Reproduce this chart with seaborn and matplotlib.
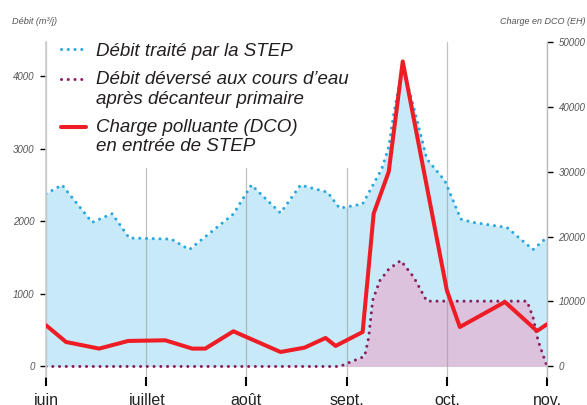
import numpy as np
import seaborn as sns
import matplotlib.pyplot as plt
from matplotlib.lines import Line2D
from matplotlib.legend_handler import HandlerLine2D

# x positions are in months: 0 = juin ... 5 = nov. (evenly spaced on the chart)
months = ['juin', 'juillet', 'août', 'sept.', 'oct.', 'nov.']

# Débit traité par la STEP (m3/j)
traite_x = [0.00, 0.16, 0.46, 0.66, 0.83, 1.25, 1.43, 1.87, 2.05, 2.34, 2.54, 2.81, 2.93,
            3.16, 3.35, 3.42, 3.47, 3.56, 3.67, 3.80, 3.98, 4.14, 4.26, 4.60, 4.86, 5.00]
traite_y = [2380, 2500, 1985, 2105, 1770, 1755, 1610, 2100, 2500, 2115, 2500, 2400, 2180,
            2240, 2720, 3020, 3480, 4140, 3570, 2860, 2560, 2030, 1985, 1915, 1610, 1780]

# Débit déversé aux cours d'eau (m3/j)
deverse_x = [0.00, 2.93, 3.00, 3.18, 3.22, 3.26, 3.33, 3.42, 3.54, 3.67, 3.80, 4.80, 4.86, 4.91, 5.00]
deverse_y = [0, 0, 40, 140, 400, 910, 1180, 1340, 1460, 1230, 900, 900, 680, 360, 0]

# Charge polluante DCO (EH)
charge_x = [0.00, 0.20, 0.53, 0.82, 1.19, 1.46, 1.59, 1.87, 2.34, 2.58, 2.79, 2.89,
            3.16, 3.27, 3.42, 3.56, 4.00, 4.13, 4.58, 4.90, 5.00]
charge_y = [6330, 3750, 2730, 3910, 4010, 2730, 2730, 5400, 2210, 2880, 4370, 3140,
            5290, 23560, 29990, 47000, 11730, 6060, 9920, 5450, 6480]

left_ticks = [0, 1000, 2000, 3000, 4000]
right_ticks = [0, 10000, 20000, 30000, 40000, 50000]

blue = '#29a8e0'
blue_fill = '#c7e9f8'
purple = '#8c1f60'
purple_fill = '#dcc2dc'
red = '#ee1d25'


class FirstLineHandler(HandlerLine2D):
    # put the legend line level with the first line of a two-line label
    def __init__(self, shift=0, **kw):
        super().__init__(**kw)
        self.shift = shift

    def create_artists(self, legend, orig_handle, xdescent, ydescent, width, height, fontsize, trans):
        artists = super().create_artists(legend, orig_handle, xdescent, ydescent,
                                         width, height, fontsize, trans)
        for a in artists:
            a.set_ydata(np.asarray(a.get_ydata()) + self.shift)
        return artists


sns.set_style('ticks')
plt.rcParams['font.family'] = ['Liberation Sans', 'DejaVu Sans']

fig = plt.figure(figsize=(5.87, 4.05), dpi=100)
ax = fig.add_axes([0.0784, 0.0691, 0.8535, 0.8272])
ax2 = ax.twinx()

dots = (0, (0.01, 2.2))

ax.fill_between(traite_x, traite_y, color=blue_fill, lw=0, zorder=1)
ax.fill_between(deverse_x, deverse_y, color=purple_fill, lw=0, zorder=1)
sns.lineplot(x=traite_x, y=traite_y, ax=ax, color=blue, lw=2.2, linestyle=dots,
             dash_capstyle='round', zorder=2)
sns.lineplot(x=deverse_x, y=deverse_y, ax=ax, color=purple, lw=2.2, linestyle=dots,
             dash_capstyle='round', zorder=2)
sns.lineplot(x=charge_x, y=charge_y, ax=ax2, color=red, lw=2.9, zorder=3)

ax.set_xlim(0, 5)
ax.set_ylim(-145, 4470)
ax2.set_ylim(-1650, 50000)

ax.set_xticks(range(len(months)), months)
ax.set_yticks(left_ticks, [str(v) for v in left_ticks])
ax2.set_yticks(right_ticks, [str(v) for v in right_ticks])
ax.set_xlabel('')
ax.set_ylabel('')
ax2.set_ylabel('')

ax.set_axisbelow('line')
ax.grid(axis='x', color='#999999', alpha=0.6, lw=0.9)

for s in ['top', 'bottom', 'right']:
    ax.spines[s].set_visible(False)
for s in ['top', 'bottom', 'left']:
    ax2.spines[s].set_visible(False)
ax.spines['left'].set_color('#cccccc')
ax.spines['left'].set_linewidth(1.2)
ax2.spines['right'].set_color('#bbbbbb')
ax2.spines['right'].set_linewidth(1.0)

ax.tick_params(axis='x', length=6.5, width=1.5, color='black', pad=5,
               labelsize=11.5, labelcolor='#222222')
ax.tick_params(axis='y', length=4.3, width=1, color='black', pad=4,
               labelsize=7, labelcolor='#555555')
ax2.tick_params(axis='y', length=4.3, width=1, color='black', pad=4,
                labelsize=7, labelcolor='#555555')
for lbl in ax.get_yticklabels() + ax2.get_yticklabels():
    lbl.set_fontstyle('italic')

fig.text(0.02, 0.948, 'Débit (m³/j)', fontsize=6.6, style='italic', color='#555555',
         ha='left', va='center')
fig.text(0.998, 0.948, 'Charge en DCO (EH)', fontsize=6.5, style='italic', color='#555555',
         ha='right', va='center')

handles = [
    Line2D([], [], color=blue, lw=2.2, linestyle=dots, dash_capstyle='round'),
    Line2D([], [], color=purple, lw=2.2, linestyle=dots, dash_capstyle='round'),
    Line2D([], [], color=red, lw=2.9),
]
labels = ['Débit traité par la STEP',
          'Débit déversé aux cours d’eau\naprès décanteur primaire',
          'Charge polluante (DCO)\nen entrée de STEP']
leg = ax2.legend(handles, labels, loc='upper left', bbox_to_anchor=(0.084, 0.925),
                 bbox_transform=fig.transFigure, frameon=True, facecolor='white',
                 edgecolor='none', framealpha=1, fancybox=False,
                 prop={'size': 13.5, 'style': 'italic'},
                 handlelength=1.33, handletextpad=0.5, labelspacing=0.62,
                 borderpad=0.65, borderaxespad=0,
                 handler_map={handles[1]: FirstLineHandler(shift=7.6),
                              handles[2]: FirstLineHandler(shift=7.6)})
for t in leg.get_texts():
    t.set_color('#231f20')
    t.set_linespacing(1.17)

fig.savefig('out.png', dpi=100)
